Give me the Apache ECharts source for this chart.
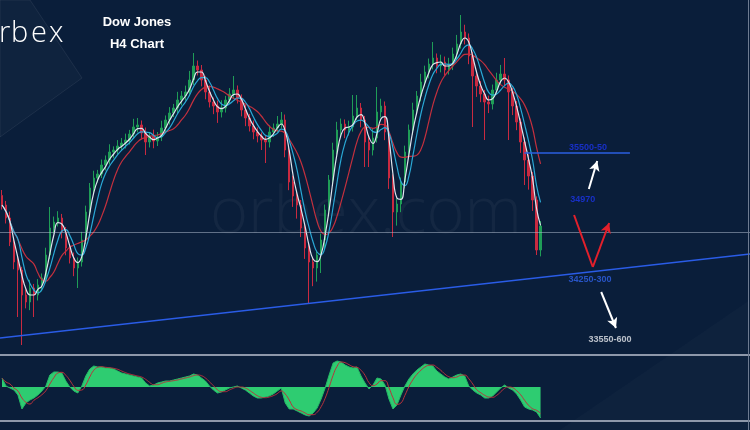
<!DOCTYPE html>
<html><head><meta charset="utf-8">
<script src="https://cdn.jsdelivr.net/npm/echarts@6/dist/echarts.min.js"></script>
<style>html,body{margin:0;padding:0;background:#0a1e3a;}#c{width:750px;height:430px;}</style>
</head><body><div id="c"></div>
<script>
// ---- price data (H4 candles) ----
const firstOpen = 35050;
const closes = [
 34945,34802,34538,34318,34230,33955,33878,34032,33955,34065,
 34142,34395,34692,34758,34802,34648,34472,34362,34252,34318,
 34560,34868,35132,35242,35286,35385,35440,35528,35550,35594,
 35627,35660,35726,35803,35825,35737,35638,35704,35649,35693,
 35792,35880,35957,36012,36100,36144,36188,36320,36474,36430,
 36320,36188,36078,36034,35968,36012,36100,36166,36210,36122,
 35990,35902,35814,35748,35704,35660,35638,35748,35792,35836,
 35880,35550,35198,35044,34945,34692,34472,34318,34252,34395,
 34560,34890,35220,35550,35770,35836,35770,35803,35924,36012,
 35880,35638,35550,35682,35968,36034,35748,35242,34868,34956,
 35198,35528,35770,35990,36144,36298,36408,36496,36562,36474,
 36518,36430,36474,36606,36716,36848,36782,36584,36364,36254,
 36166,36078,36056,36210,36320,36386,36320,36188,36034,35858,
 35638,35440,35264,35000,34450,34714];
const wickUp = [
 60,45,70,40,55,35,60,90,45,65,
 50,80,231,60,75,45,55,40,60,50,
 90,70,55,80,45,60,50,85,40,65,
 55,70,45,90,77,50,60,45,70,55,
 80,50,65,45,90,55,70,100,143,60,
 55,45,70,50,60,85,45,65,154,50,
 40,55,45,60,50,40,55,70,50,88,
 88,60,45,70,50,55,40,60,45,50,
 70,60,55,80,90,60,50,70,231,143,
 55,45,60,110,275,80,50,45,40,60,
 50,70,60,80,55,90,70,60,176,50,
 80,60,90,70,100,187,80,50,45,60,
 55,45,70,60,80,100,176,50,45,55,
 40,50,60,45,40,55];
const wickDn = [
 50,60,45,80,517,550,70,90,242,60,
 70,50,45,60,50,70,80,60,90,220,
 50,45,60,70,50,45,60,50,70,45,
 55,60,50,45,60,70,143,60,80,55,
 45,60,50,45,55,60,50,45,55,60,
 70,80,60,90,120,60,50,45,55,60,
 70,90,60,80,70,110,231,60,55,45,
 50,80,90,120,150,100,120,451,200,150,
 198,90,70,60,50,70,90,60,50,45,
 80,275,187,60,50,60,90,120,275,150,
 90,70,60,50,45,60,50,70,60,80,
 70,60,50,45,60,50,70,90,561,120,
 90,418,100,60,50,45,60,528,100,90,
 120,275,150,120,55,70];
// ---- oscillator panel ----
const oscillator = [
 9,1,-1,-3,-8,-22,-16,-13,-11,-8,
 -4,1,12,15,15,14,6,0,-4,-6,
 1,11,18,21,20,20,19,19,18,16,
 14,13,12,11,10,9,4,1,2,4,
 5,6,6,7,8,9,10,11,13,12,
 9,6,1,-3,-6,-5,-3,-1,0,1,
 -1,-3,-6,-9,-11,-11,-10,-9,-7,-4,
 -1,-16,-22,-22,-24,-26,-28,-29,-26,-21,
 -12,-1,12,24,26,25,22,20,19,20,
 11,4,-2,2,9,8,2,-12,-22,-18,
 -8,1,8,13,17,20,23,22,21,16,
 13,10,8,10,12,13,11,1,-3,-6,
 -8,-11,-11,-9,-5,-1,2,-1,-3,-7,
 -13,-20,-22,-23,-25,-31];
const slotCount = 188;
const categories = Array.from({length: slotCount}, (_, i) => 'H4-' + (i + 1));
const maPeriods = [3, 5, 9];
// ---- analysis levels / drawings (bar index, price) ----
const levelLabels = ['35500-50', '34970', '34250-300', '33550-600'];
const levelX = [146.9, 145.6, 147.4, 152.4];
const levelY = [35572, 35000, 34120, 33460];
const trendX = [-0.5, 187.5], trendY = [33482, 34406];
const targetX = [130.9, 157.4], targetY = [35517, 35517];
const pivotY = 34648;
const upArrowX = [147.1, 149.2], upArrowY = [35121, 35429];
const downArrowX = [150.2, 153.9], downArrowY = [33988, 33592];
const vPathX = [143.4, 148.1, 152.2], vPathY = [34835, 34263, 34747];
const logoLetters = ['o', 'r', 'b', 'e', 'x'];

function sma(arr, n) {
  return arr.map((_, i) => {
    const s = Math.max(0, i - n + 1); let sum = 0;
    for (let k = s; k <= i; k++) sum += arr[k];
    return +(sum / (i - s + 1)).toFixed(1);
  });
}
const candleData = closes.map((c, i) => {
  const o = i === 0 ? firstOpen : closes[i - 1];
  return [o, c, Math.min(o, c) - wickDn[i], Math.max(o, c) + wickUp[i]];
});
const ma = maPeriods.map(p => sma(closes, p));
const signal = sma(oscillator, 3);

const labelColors = ['#1c34ea', '#1c34ea', '#2f62e8', '#e6e9ee'];
const logoLeft = [-18, -1, 11, 31, 49];
const logoGraphics = logoLetters.map((ch, i) => ({
  type: 'text', z: 10,
  style: {x: logoLeft[i], y: 34, text: ch, verticalAlign: 'middle', textVerticalAlign: 'middle',
    fill: '#ffffff', font: '300 29px "Open Sans"'}
}));
const chart = echarts.init(document.getElementById('c'), null, {renderer: 'canvas'});
const hidden = {show: false};
chart.setOption({
  animation: false,
  backgroundColor: '#0a1e3a',
  grid: [
    {left: 0, right: 0, top: 0, height: 352},
    {left: 0, right: 0, top: 357, height: 62}
  ],
  xAxis: [
    {type: 'category', gridIndex: 0, data: categories, boundaryGap: true, show: false},
    {type: 'value', gridIndex: 0, min: -0.5, max: slotCount - 0.5, show: false},
    {type: 'category', gridIndex: 1, data: categories, boundaryGap: true, show: false}
  ],
  yAxis: [
    {type: 'value', gridIndex: 0, min: 33328, max: 37200, show: false, splitLine: hidden},
    {type: 'value', gridIndex: 1, min: -32, max: 30, show: false, splitLine: hidden}
  ],
  graphic: [
    {type: 'polygon', z: 0, shape: {points: [[0,0],[30,0],[82,78],[0,137]]},
     style: {fill: 'rgba(255,255,255,0.025)', stroke: 'rgba(255,255,255,0.07)', lineWidth: 1}},
    {type: 'polygon', z: 0, shape: {points: [[560,430],[750,300],[750,430]]},
     style: {fill: 'rgba(255,255,255,0.02)'}},
    {type: 'text', z: 1, style: {x: 366, y: 214, text: 'orbex.com', align: 'center', verticalAlign: 'middle',
      textAlign: 'center', textVerticalAlign: 'middle', fill: 'rgba(255,255,255,0.045)', font: '300 65px "Open Sans"'}},
    ...logoGraphics,
    {type: 'text', z: 10, style: {x: 137, y: 22, text: 'Dow Jones', align: 'center', verticalAlign: 'middle',
      textAlign: 'center', textVerticalAlign: 'middle', fill: '#ffffff', font: 'bold 13px "Liberation Sans"'}},
    {type: 'text', z: 10, style: {x: 137, y: 44, text: 'H4 Chart', align: 'center', verticalAlign: 'middle',
      textAlign: 'center', textVerticalAlign: 'middle', fill: '#ffffff', font: 'bold 13px "Liberation Sans"'}},
    {type: 'rect', z: 10, shape: {x: 0, y: 354, width: 750, height: 2}, style: {fill: '#8e98aa'}},
    {type: 'rect', z: 10, shape: {x: 0, y: 420, width: 750, height: 2}, style: {fill: '#8e98aa'}},
    {type: 'rect', z: 10, shape: {x: 748, y: 0, width: 1, height: 430}, style: {fill: '#6c7a90'}}
  ],
  series: [
    {type: 'candlestick', xAxisIndex: 0, yAxisIndex: 0, data: candleData, barWidth: 2,
     itemStyle: {color: '#1f9d57', color0: '#c92a40', borderColor: '#1f9d57', borderColor0: '#c92a40', borderWidth: 1}},
    {type: 'line', xAxisIndex: 0, yAxisIndex: 0, data: ma[2], symbol: 'none', smooth: true,
     lineStyle: {color: '#c4303e', width: 1.2}},
    {type: 'line', xAxisIndex: 0, yAxisIndex: 0, data: ma[1], symbol: 'none', smooth: true,
     lineStyle: {color: '#2aa9d6', width: 1.2}},
    {type: 'line', xAxisIndex: 0, yAxisIndex: 0, data: ma[0], symbol: 'none', smooth: true,
     lineStyle: {color: '#dfe6ee', width: 1.2}},
    {type: 'line', xAxisIndex: 1, yAxisIndex: 0, data: [], silent: true,
     markLine: {silent: true, symbol: ['none', 'none'], label: {show: false}, animation: false,
       data: [
         [{coord: [trendX[0], trendY[0]], lineStyle: {color: '#2a5ce6', width: 1.5, type: 'solid'}}, {coord: [trendX[1], trendY[1]]}],
         [{coord: [trendX[0], pivotY], lineStyle: {color: 'rgba(170,182,200,0.55)', width: 1, type: 'solid'}}, {coord: [trendX[1], pivotY]}],
         [{coord: [targetX[0], targetY[0]], lineStyle: {color: '#2b5fe0', width: 1.5, type: 'solid'}}, {coord: [targetX[1], targetY[1]]}],
         [{coord: [vPathX[0], vPathY[0]], lineStyle: {color: '#e3202b', width: 2, type: 'solid'}}, {coord: [vPathX[1], vPathY[1]]}],
         [{coord: [vPathX[1], vPathY[1]], lineStyle: {color: '#e3202b', width: 2, type: 'solid'}}, {coord: [vPathX[2], vPathY[2]], symbol: 'arrow', symbolSize: [8, 10]}],
         [{coord: [upArrowX[0], upArrowY[0]], lineStyle: {color: '#ffffff', width: 2, type: 'solid'}}, {coord: [upArrowX[1], upArrowY[1]], symbol: 'arrow', symbolSize: [8, 10]}],
         [{coord: [downArrowX[0], downArrowY[0]], lineStyle: {color: '#ffffff', width: 2, type: 'solid'}}, {coord: [downArrowX[1], downArrowY[1]], symbol: 'arrow', symbolSize: [8, 10]}]
       ]}},
    {type: 'scatter', xAxisIndex: 1, yAxisIndex: 0, symbolSize: 0, silent: true,
     data: levelX.map((x, i) => ({value: [x, levelY[i]], label: {color: labelColors[i]}})),
     label: {show: true, position: 'inside', formatter: p => levelLabels[p.dataIndex],
       fontWeight: 'bold', fontSize: 9, fontFamily: 'Liberation Sans'}},
    {type: 'line', xAxisIndex: 2, yAxisIndex: 1, data: oscillator, symbol: 'none',
     lineStyle: {color: '#27b866', width: 1}, areaStyle: {color: '#2ecc71', opacity: 1}},
    {type: 'line', xAxisIndex: 2, yAxisIndex: 1, data: signal, symbol: 'none', smooth: true,
     lineStyle: {color: '#b8323c', width: 1}}
  ]
});
</script></body></html>
